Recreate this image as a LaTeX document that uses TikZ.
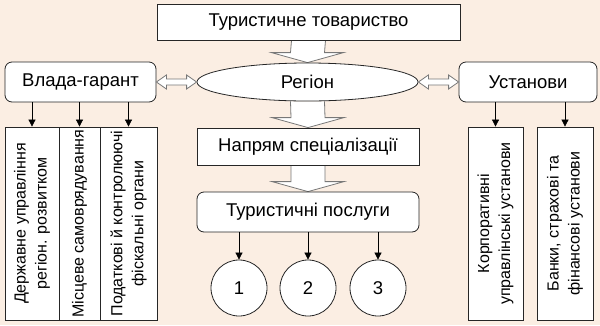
\documentclass[tikz,border=0pt]{standalone}
\usepackage{fontspec}
\setmainfont{Liberation Sans}
\usetikzlibrary{arrows.meta,calc,shapes.geometric,backgrounds}
\definecolor{bgpeach}{RGB}{251,238,227}
\definecolor{edgegrey}{RGB}{120,120,120}
\newcommand{\blockarrow}[2]{%
  \draw[fill=white,draw=edgegrey,line width=0.8pt]
    ($(#1.south)+(-17,0)$) -- ($(#2.north)+(-17,-10)$) -- ($(#2.north)+(-36,-10)$)
    -- (#2.north) -- ($(#2.north)+(36,-10)$) -- ($(#2.north)+(17,-10)$)
    -- ($(#1.south)+(17,0)$);}
\newcommand{\dblarrow}[2]{%
  \draw[fill=white,draw=edgegrey,line width=0.8pt]
    (#1) -- ($(#1)+(10,-7)$) -- ($(#1)+(10,-3)$) -- ($(#2)+(-10,-3)$) -- ($(#2)+(-10,-7)$)
    -- (#2) -- ($(#2)+(-10,7)$) -- ($(#2)+(-10,3)$) -- ($(#1)+(10,3)$) -- ($(#1)+(10,7)$) -- cycle;}

\begin{document}
\begin{tikzpicture}[x=1pt,y=-1pt,font=\fontsize{18.5}{22}\selectfont,
  box/.style={draw=black!85,fill=white,line width=0.8pt,inner sep=0pt},
  rbox/.style={box,rounded corners=7pt},
  vbox/.style={box,rotate=90,minimum width=193,align=center,font=\fontsize{16}{21}\selectfont},
  num/.style={box,circle,minimum size=56},
  tip/.style={-{Triangle[length=7pt,width=7pt]},line width=0.7pt}]
  \useasboundingbox (0,0) rectangle (600,325);

  \node[box,minimum width=303,minimum height=36] (top) at (308.5,22) {Туристичне товариство};
  \node[box,ellipse,minimum width=221,minimum height=38] (region) at (307.5,82) {Регіон};
  \node[rbox,minimum width=151,minimum height=40] (vlada) at (80.5,82) {Влада-гарант};
  \node[rbox,minimum width=138,minimum height=40] (ustanovy) at (528,82) {Установи};
  \node[box,minimum width=222,minimum height=37] (napryam) at (308,146.5) {Напрям спеціалізації};
  \node[rbox,minimum width=222,minimum height=40] (posluhy) at (308,212) {Туристичні послуги};

  \node[vbox,minimum height=54] (l1) at (32,223.5) {Державне управління\\регіон. розвитком};
  \node[vbox,minimum height=41] (l2) at (79.5,223.5) {Місцеве самоврядування};
  \node[vbox,minimum height=57] (l3) at (128.5,223.5) {Податкові й контролюючі\\фіскальні органи};
  \node[vbox,minimum height=55] (r1) at (495.5,223.5) {Корпоративні\\управлінські установи};
  \node[vbox,minimum height=56] (r2) at (565,223.5) {Банки, страхові та\\фінансові установи};

  \node[num] (c1) at (239,288) {1};
  \node[num] (c2) at (308,288) {2};
  \node[num] (c3) at (378,288) {3};

  \foreach \b in {l1,l2,l3} \draw[tip] (vlada.south -| \b.east) -- (\b.east);
  \foreach \b in {r1,r2} \draw[tip] (ustanovy.south -| \b.east) -- (\b.east);
  \foreach \b in {c1,c2,c3} \draw[tip] (posluhy.south -| \b.north) -- (\b.north);

  \dblarrow{vlada.east}{region.west}
  \dblarrow{region.east}{ustanovy.west}

  \begin{pgfonlayer}{background}
    \fill[bgpeach] (0,0) rectangle (600,325);
    \blockarrow{top}{region}
    \blockarrow{region}{napryam}
    \blockarrow{napryam}{posluhy}
  \end{pgfonlayer}
\end{tikzpicture}
\end{document}
